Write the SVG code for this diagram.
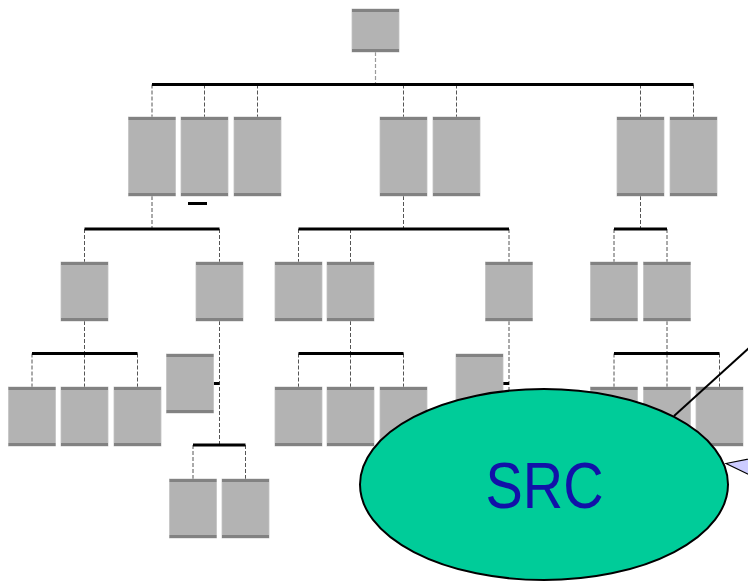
<svg xmlns="http://www.w3.org/2000/svg" width="748" height="582" viewBox="0 0 748 582">
<style>
.box{fill:#b3b3b3;stroke:#c4c4c4;stroke-width:0.8}
.stripe{fill:#828282}
.bar{stroke:#000;stroke-width:3;fill:none}
.dash{stroke:#555;stroke-width:1;stroke-dasharray:4 2;fill:none}
.dashl{stroke:#9a9a9a;stroke-width:1.2;stroke-dasharray:4 2;fill:none}
</style>
<rect width="748" height="582" fill="#fff"/>
<g id="connectors">
<path class="dashl" d="M375.5 52V84.5"/>
<path class="dash" d="M152 84.5V117M204.5 84.5V117M257.5 84.5V117M403.5 84.5V117M456.5 84.5V117M640.5 84.5V117M693.5 84.5V117"/>
<path class="dash" d="M152 196V229M403.5 196V229M640.5 196V229"/>
<path class="dash" d="M84.5 229V262M219.5 229V262M298.5 229V262M350.5 229V262M509 229V262M614 229V262M667 229V262"/>
<path class="dash" d="M84.5 321V353.5M219.5 321V445M350.5 321V353.5M509 321V395M667 321V353.5"/>
<path class="dash" d="M32 353.5V387M84.5 353.5V387M137.5 353.5V387M298.5 353.5V387M350.5 353.5V387M403.5 353.5V387M614 353.5V387M667 353.5V387M719.5 353.5V387"/>
<path class="dash" d="M193 445V479M245.5 445V479"/>
<path class="bar" d="M152 84.5H693.5M84.5 229H219.5M298.5 229H509M614 229H667M32 353.5H137.5M298.5 353.5H403.5M614 353.5H719.5M193 445H245.5M213.5 383.5H219.5M503 383.5H509M188 203.5H207"/>
</g>
<g id="n0"><rect class="box" x="352" y="9" width="47" height="43"/><rect class="stripe" x="352" y="9" width="47" height="3"/><rect class="stripe" x="352" y="49" width="47" height="3"/></g>
<g id="n1"><rect class="box" x="128.5" y="117" width="47" height="79"/><rect class="stripe" x="128.5" y="117" width="47" height="3"/><rect class="stripe" x="128.5" y="193" width="47" height="3"/></g>
<g id="n2"><rect class="box" x="181" y="117" width="47" height="79"/><rect class="stripe" x="181" y="117" width="47" height="3"/><rect class="stripe" x="181" y="193" width="47" height="3"/></g>
<g id="n3"><rect class="box" x="234" y="117" width="47" height="79"/><rect class="stripe" x="234" y="117" width="47" height="3"/><rect class="stripe" x="234" y="193" width="47" height="3"/></g>
<g id="n4"><rect class="box" x="380" y="117" width="47" height="79"/><rect class="stripe" x="380" y="117" width="47" height="3"/><rect class="stripe" x="380" y="193" width="47" height="3"/></g>
<g id="n5"><rect class="box" x="433" y="117" width="47" height="79"/><rect class="stripe" x="433" y="117" width="47" height="3"/><rect class="stripe" x="433" y="193" width="47" height="3"/></g>
<g id="n6"><rect class="box" x="617" y="117" width="47" height="79"/><rect class="stripe" x="617" y="117" width="47" height="3"/><rect class="stripe" x="617" y="193" width="47" height="3"/></g>
<g id="n7"><rect class="box" x="670" y="117" width="47" height="79"/><rect class="stripe" x="670" y="117" width="47" height="3"/><rect class="stripe" x="670" y="193" width="47" height="3"/></g>
<g id="n8"><rect class="box" x="61" y="262" width="47" height="59"/><rect class="stripe" x="61" y="262" width="47" height="3"/><rect class="stripe" x="61" y="318" width="47" height="3"/></g>
<g id="n9"><rect class="box" x="196" y="262" width="47" height="59"/><rect class="stripe" x="196" y="262" width="47" height="3"/><rect class="stripe" x="196" y="318" width="47" height="3"/></g>
<g id="n10"><rect class="box" x="275" y="262" width="47" height="59"/><rect class="stripe" x="275" y="262" width="47" height="3"/><rect class="stripe" x="275" y="318" width="47" height="3"/></g>
<g id="n11"><rect class="box" x="327" y="262" width="47" height="59"/><rect class="stripe" x="327" y="262" width="47" height="3"/><rect class="stripe" x="327" y="318" width="47" height="3"/></g>
<g id="n12"><rect class="box" x="485.5" y="262" width="47" height="59"/><rect class="stripe" x="485.5" y="262" width="47" height="3"/><rect class="stripe" x="485.5" y="318" width="47" height="3"/></g>
<g id="n13"><rect class="box" x="590.5" y="262" width="47" height="59"/><rect class="stripe" x="590.5" y="262" width="47" height="3"/><rect class="stripe" x="590.5" y="318" width="47" height="3"/></g>
<g id="n14"><rect class="box" x="643.5" y="262" width="47" height="59"/><rect class="stripe" x="643.5" y="262" width="47" height="3"/><rect class="stripe" x="643.5" y="318" width="47" height="3"/></g>
<g id="n15"><rect class="box" x="166.5" y="354" width="47" height="59"/><rect class="stripe" x="166.5" y="354" width="47" height="3"/><rect class="stripe" x="166.5" y="410" width="47" height="3"/></g>
<g id="n16"><rect class="box" x="456" y="354" width="47" height="59"/><rect class="stripe" x="456" y="354" width="47" height="3"/><rect class="stripe" x="456" y="410" width="47" height="3"/></g>
<g id="n17"><rect class="box" x="8.5" y="387" width="47" height="59"/><rect class="stripe" x="8.5" y="387" width="47" height="3"/><rect class="stripe" x="8.5" y="443" width="47" height="3"/></g>
<g id="n18"><rect class="box" x="61" y="387" width="47" height="59"/><rect class="stripe" x="61" y="387" width="47" height="3"/><rect class="stripe" x="61" y="443" width="47" height="3"/></g>
<g id="n19"><rect class="box" x="114" y="387" width="47" height="59"/><rect class="stripe" x="114" y="387" width="47" height="3"/><rect class="stripe" x="114" y="443" width="47" height="3"/></g>
<g id="n20"><rect class="box" x="275" y="387" width="47" height="59"/><rect class="stripe" x="275" y="387" width="47" height="3"/><rect class="stripe" x="275" y="443" width="47" height="3"/></g>
<g id="n21"><rect class="box" x="327" y="387" width="47" height="59"/><rect class="stripe" x="327" y="387" width="47" height="3"/><rect class="stripe" x="327" y="443" width="47" height="3"/></g>
<g id="n22"><rect class="box" x="380" y="387" width="47" height="59"/><rect class="stripe" x="380" y="387" width="47" height="3"/><rect class="stripe" x="380" y="443" width="47" height="3"/></g>
<g id="n23"><rect class="box" x="590.5" y="387" width="47" height="59"/><rect class="stripe" x="590.5" y="387" width="47" height="3"/><rect class="stripe" x="590.5" y="443" width="47" height="3"/></g>
<g id="n24"><rect class="box" x="643.5" y="387" width="47" height="59"/><rect class="stripe" x="643.5" y="387" width="47" height="3"/><rect class="stripe" x="643.5" y="443" width="47" height="3"/></g>
<g id="n25"><rect class="box" x="696" y="387" width="47" height="59"/><rect class="stripe" x="696" y="387" width="47" height="3"/><rect class="stripe" x="696" y="443" width="47" height="3"/></g>
<g id="n26"><rect class="box" x="169.5" y="479" width="47" height="59"/><rect class="stripe" x="169.5" y="479" width="47" height="3"/><rect class="stripe" x="169.5" y="535" width="47" height="3"/></g>
<g id="n27"><rect class="box" x="222" y="479" width="47" height="59"/><rect class="stripe" x="222" y="479" width="47" height="3"/><rect class="stripe" x="222" y="535" width="47" height="3"/></g>
<g id="callout">
<path d="M674 416L760 338" stroke="#000" stroke-width="2" fill="none"/>
<polygon points="726,463.5 770,454.7 770,484.6" fill="#ccccff" stroke="#000" stroke-width="1.2"/>
</g>
<g id="src">
<ellipse cx="544" cy="484.5" rx="184" ry="95.5" fill="#00cc99" stroke="#000" stroke-width="2"/>
<text x="544.5" y="507.5" font-family="Liberation Sans, Arial, sans-serif" font-size="64" fill="#1111a8" text-anchor="middle" textLength="118" lengthAdjust="spacingAndGlyphs">SRC</text>
</g>
</svg>
